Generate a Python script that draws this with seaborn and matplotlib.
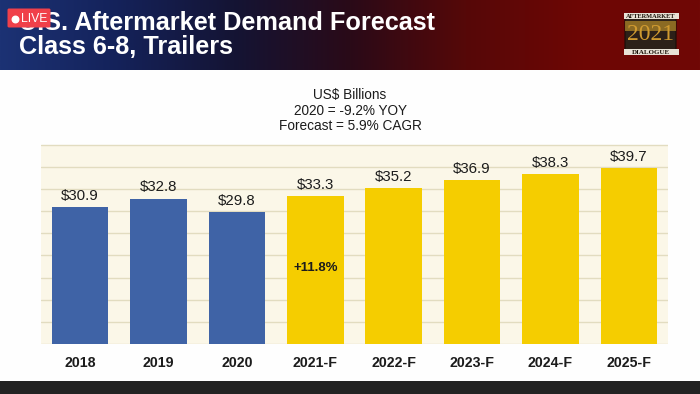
import numpy as np
import pandas as pd
import seaborn as sns
import matplotlib.pyplot as plt
from matplotlib.colors import LinearSegmentedColormap
from matplotlib.patches import FancyBboxPatch, Rectangle

# data
years = ["2018", "2019", "2020", "2021-F", "2022-F", "2023-F", "2024-F", "2025-F"]
values = [30.9, 32.8, 29.8, 33.3, 35.2, 36.9, 38.3, 39.7]
kinds = ["actual", "actual", "actual", "forecast", "forecast", "forecast", "forecast", "forecast"]
title_lines = ["U.S. Aftermarket Demand Forecast", "Class 6-8, Trailers"]
subtitle_lines = ["US$ Billions", "2020 = -9.2% YOY", "Forecast = 5.9% CAGR"]

W, H = 700, 394
font = ["Liberation Sans", "DejaVu Sans"]

sns.set_theme(style="white")
plt.rcParams["font.family"] = font

fig = plt.figure(figsize=(W / 100, H / 100), dpi=100, facecolor="#fefefe")


def px_axes(x0, y0, x1, y1, **kw):
    # axes from pixel box, y counted from the top of the picture
    return fig.add_axes([x0 / W, 1 - y1 / H, (x1 - x0) / W, (y1 - y0) / H], **kw)


# chart
df = pd.DataFrame({"year": years, "value": values, "kind": kinds})
ax = px_axes(41, 144.5, 668, 344)
ax.set_facecolor("#fbf7e8")
sns.barplot(data=df, x="year", y="value", hue="kind", dodge=False, width=0.72,
            palette={"actual": "#3f63a6", "forecast": "#f5cd00"}, legend=False,
            saturation=1, linewidth=0, ax=ax, zorder=3)
ax.set_ylim(0, 45)
ax.set_xlim(-0.5, 7.5)
ax.set_yticks(np.arange(0, 46, 5))
ax.tick_params(axis="y", left=False, labelleft=False)
ax.tick_params(axis="x", bottom=False, pad=2.4, labelsize=10.2, labelcolor="#1c1c1c")
for lab in ax.get_xticklabels():
    lab.set_fontweight("bold")
ax.set_xlabel("")
ax.set_ylabel("")
ax.grid(axis="y", color="#e2dcc0", lw=1, zorder=1)
ax.set_axisbelow(True)
sns.despine(ax=ax, left=True, right=True, top=True, bottom=True)

for c in ax.containers:
    ax.bar_label(c, labels=["" if np.isnan(v) else "$%.1f" % v for v in c.datavalues],
                 padding=3, fontsize=10.8, color="#1c1c1c")
ax.text(3, 17.1, "+11.8%", ha="center", va="center", fontsize=9.5,
        fontweight="bold", color="#1c1c1c", zorder=5)

fig.text(350 / W, 1 - 95 / H, subtitle_lines[0], ha="center", va="center", fontsize=9.8, color="#1c1c1c")
fig.text(350 / W, 1 - 110.7 / H, subtitle_lines[1], ha="center", va="center", fontsize=9.8, color="#1c1c1c")
fig.text(350 / W, 1 - 126.5 / H, subtitle_lines[2], ha="center", va="center", fontsize=9.8, color="#1c1c1c")

# banner with the left to right gradient
banner = px_axes(0, 0, W, 70)
cmap = LinearSegmentedColormap.from_list(
    "banner", ["#1c3274", "#14225a", "#141434", "#2a0a18", "#560808", "#6e0604", "#700806"])
banner.imshow(np.linspace(0, 1, 256).reshape(1, -1), aspect="auto", cmap=cmap,
              extent=[0, W, 70, 0])
banner.set_xlim(0, W)
banner.set_ylim(70, 0)
banner.axis("off")
banner.text(19, 22.5, title_lines[0], color="white", fontsize=18.2, fontweight="bold",
            va="center", ha="left")
banner.text(19, 47, title_lines[1], color="white", fontsize=18.2, fontweight="bold",
            va="center", ha="left")

# 2021 logo top right
banner.add_patch(FancyBboxPatch((625, 15), 51, 38, boxstyle="round,pad=0,rounding_size=2",
                                fc="#2c2018", ec="#1a0d08", lw=0.8, zorder=3))
banner.add_patch(Rectangle((625, 21), 51, 10, fc="#b58a28", ec="none", zorder=3.5, alpha=0.7))
banner.add_patch(Rectangle((624, 13), 55, 6, fc="#e8e2d6", ec="none", zorder=4))
banner.add_patch(Rectangle((624, 49), 55, 6, fc="#e8e2d6", ec="none", zorder=4))
banner.text(651, 16, "AFTERMARKET", color="#1a1208", fontsize=4.6, fontweight="bold",
            ha="center", va="center", family="Liberation Serif", zorder=5)
banner.text(650.5, 34.5, "2021", color="#d09a30", fontsize=17, ha="center", va="center",
            family="Liberation Serif", zorder=5)
banner.text(651, 52, "DIALOGUE", color="#1a1208", fontsize=5, fontweight="bold",
            ha="center", va="center", family="Liberation Serif", zorder=5)

# LIVE badge over the title
banner.add_patch(FancyBboxPatch((7.5, 8.5), 43, 19, boxstyle="round,pad=0,rounding_size=1.5",
                                fc="#f0404a", ec="none", zorder=6))
banner.scatter([14.5], [18.5], s=22, color="white", zorder=7)
banner.text(21.5, 18.5, "LIVE", color="white", fontsize=8.8, ha="left", va="center", zorder=7)

# dark strip along the bottom
strip = px_axes(0, 381, W, H)
strip.set_facecolor("#222222")
strip.set_xticks([])
strip.set_yticks([])
sns.despine(ax=strip, left=True, right=True, top=True, bottom=True)

fig.savefig("out.png", dpi=100, facecolor=fig.get_facecolor())
